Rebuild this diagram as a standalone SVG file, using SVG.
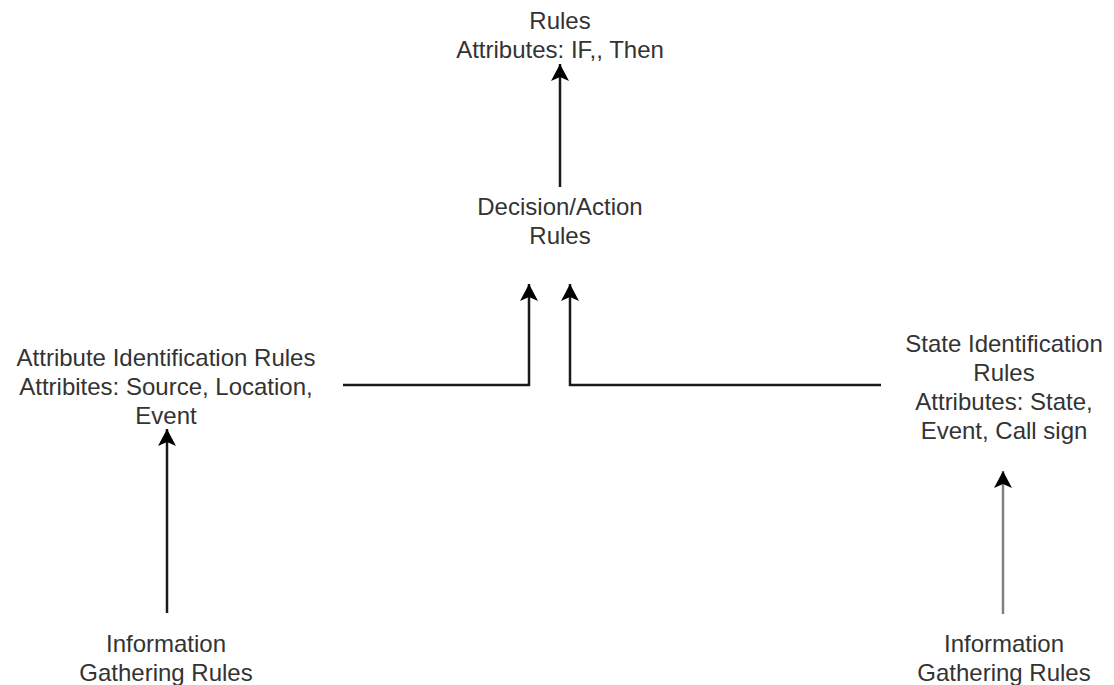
<svg xmlns="http://www.w3.org/2000/svg" width="1114" height="685" viewBox="0 0 1114 685">
  <style>
    .lbl { font-family: "Liberation Sans", Arial, sans-serif; font-size: 24px; fill: #333333; text-anchor: middle; }
    .edge { fill: none; stroke: #1a1a1a; stroke-width: 2.5; }
    .edge-gray { fill: none; stroke: #808080; stroke-width: 2.5; }
  </style>
  <defs>
    <marker id="arrow" markerUnits="userSpaceOnUse" viewBox="0 0 18 18" refX="17" refY="9" markerWidth="18" markerHeight="18" orient="auto">
      <path d="M17,9 L0,0 L4,9 L0,18 Z" fill="#000000"/>
    </marker>
  </defs>
  <rect width="1114" height="685" fill="#ffffff"/>

  <g id="connectors">
    <path class="edge" d="M560,187 L560,64" marker-end="url(#arrow)"/>
    <path class="edge" d="M343,385 L529,385 L529,284" marker-end="url(#arrow)"/>
    <path class="edge" d="M881,385 L570,385 L570,284" marker-end="url(#arrow)"/>
    <path class="edge" d="M167,613 L167,429" marker-end="url(#arrow)"/>
    <path class="edge-gray" d="M1003,614 L1003,471" marker-end="url(#arrow)"/>
  </g>

  <g id="node-rules">
    <text class="lbl" x="560" y="29">Rules</text>
    <text class="lbl" x="560" y="58">Attributes: IF,, Then</text>
  </g>

  <g id="node-decision">
    <text class="lbl" x="560" y="215">Decision/Action</text>
    <text class="lbl" x="560" y="244">Rules</text>
  </g>

  <g id="node-attribute">
    <text class="lbl" x="166" y="366">Attribute Identification Rules</text>
    <text class="lbl" x="166" y="395">Attribites: Source, Location,</text>
    <text class="lbl" x="166" y="424">Event</text>
  </g>

  <g id="node-state">
    <text class="lbl" x="1004" y="352">State Identification</text>
    <text class="lbl" x="1004" y="381">Rules</text>
    <text class="lbl" x="1004" y="410">Attributes: State,</text>
    <text class="lbl" x="1004" y="439">Event, Call sign</text>
  </g>

  <g id="node-info-left">
    <text class="lbl" x="166" y="652">Information</text>
    <text class="lbl" x="166" y="681">Gathering Rules</text>
  </g>

  <g id="node-info-right">
    <text class="lbl" x="1004" y="652">Information</text>
    <text class="lbl" x="1004" y="681">Gathering Rules</text>
  </g>
</svg>
